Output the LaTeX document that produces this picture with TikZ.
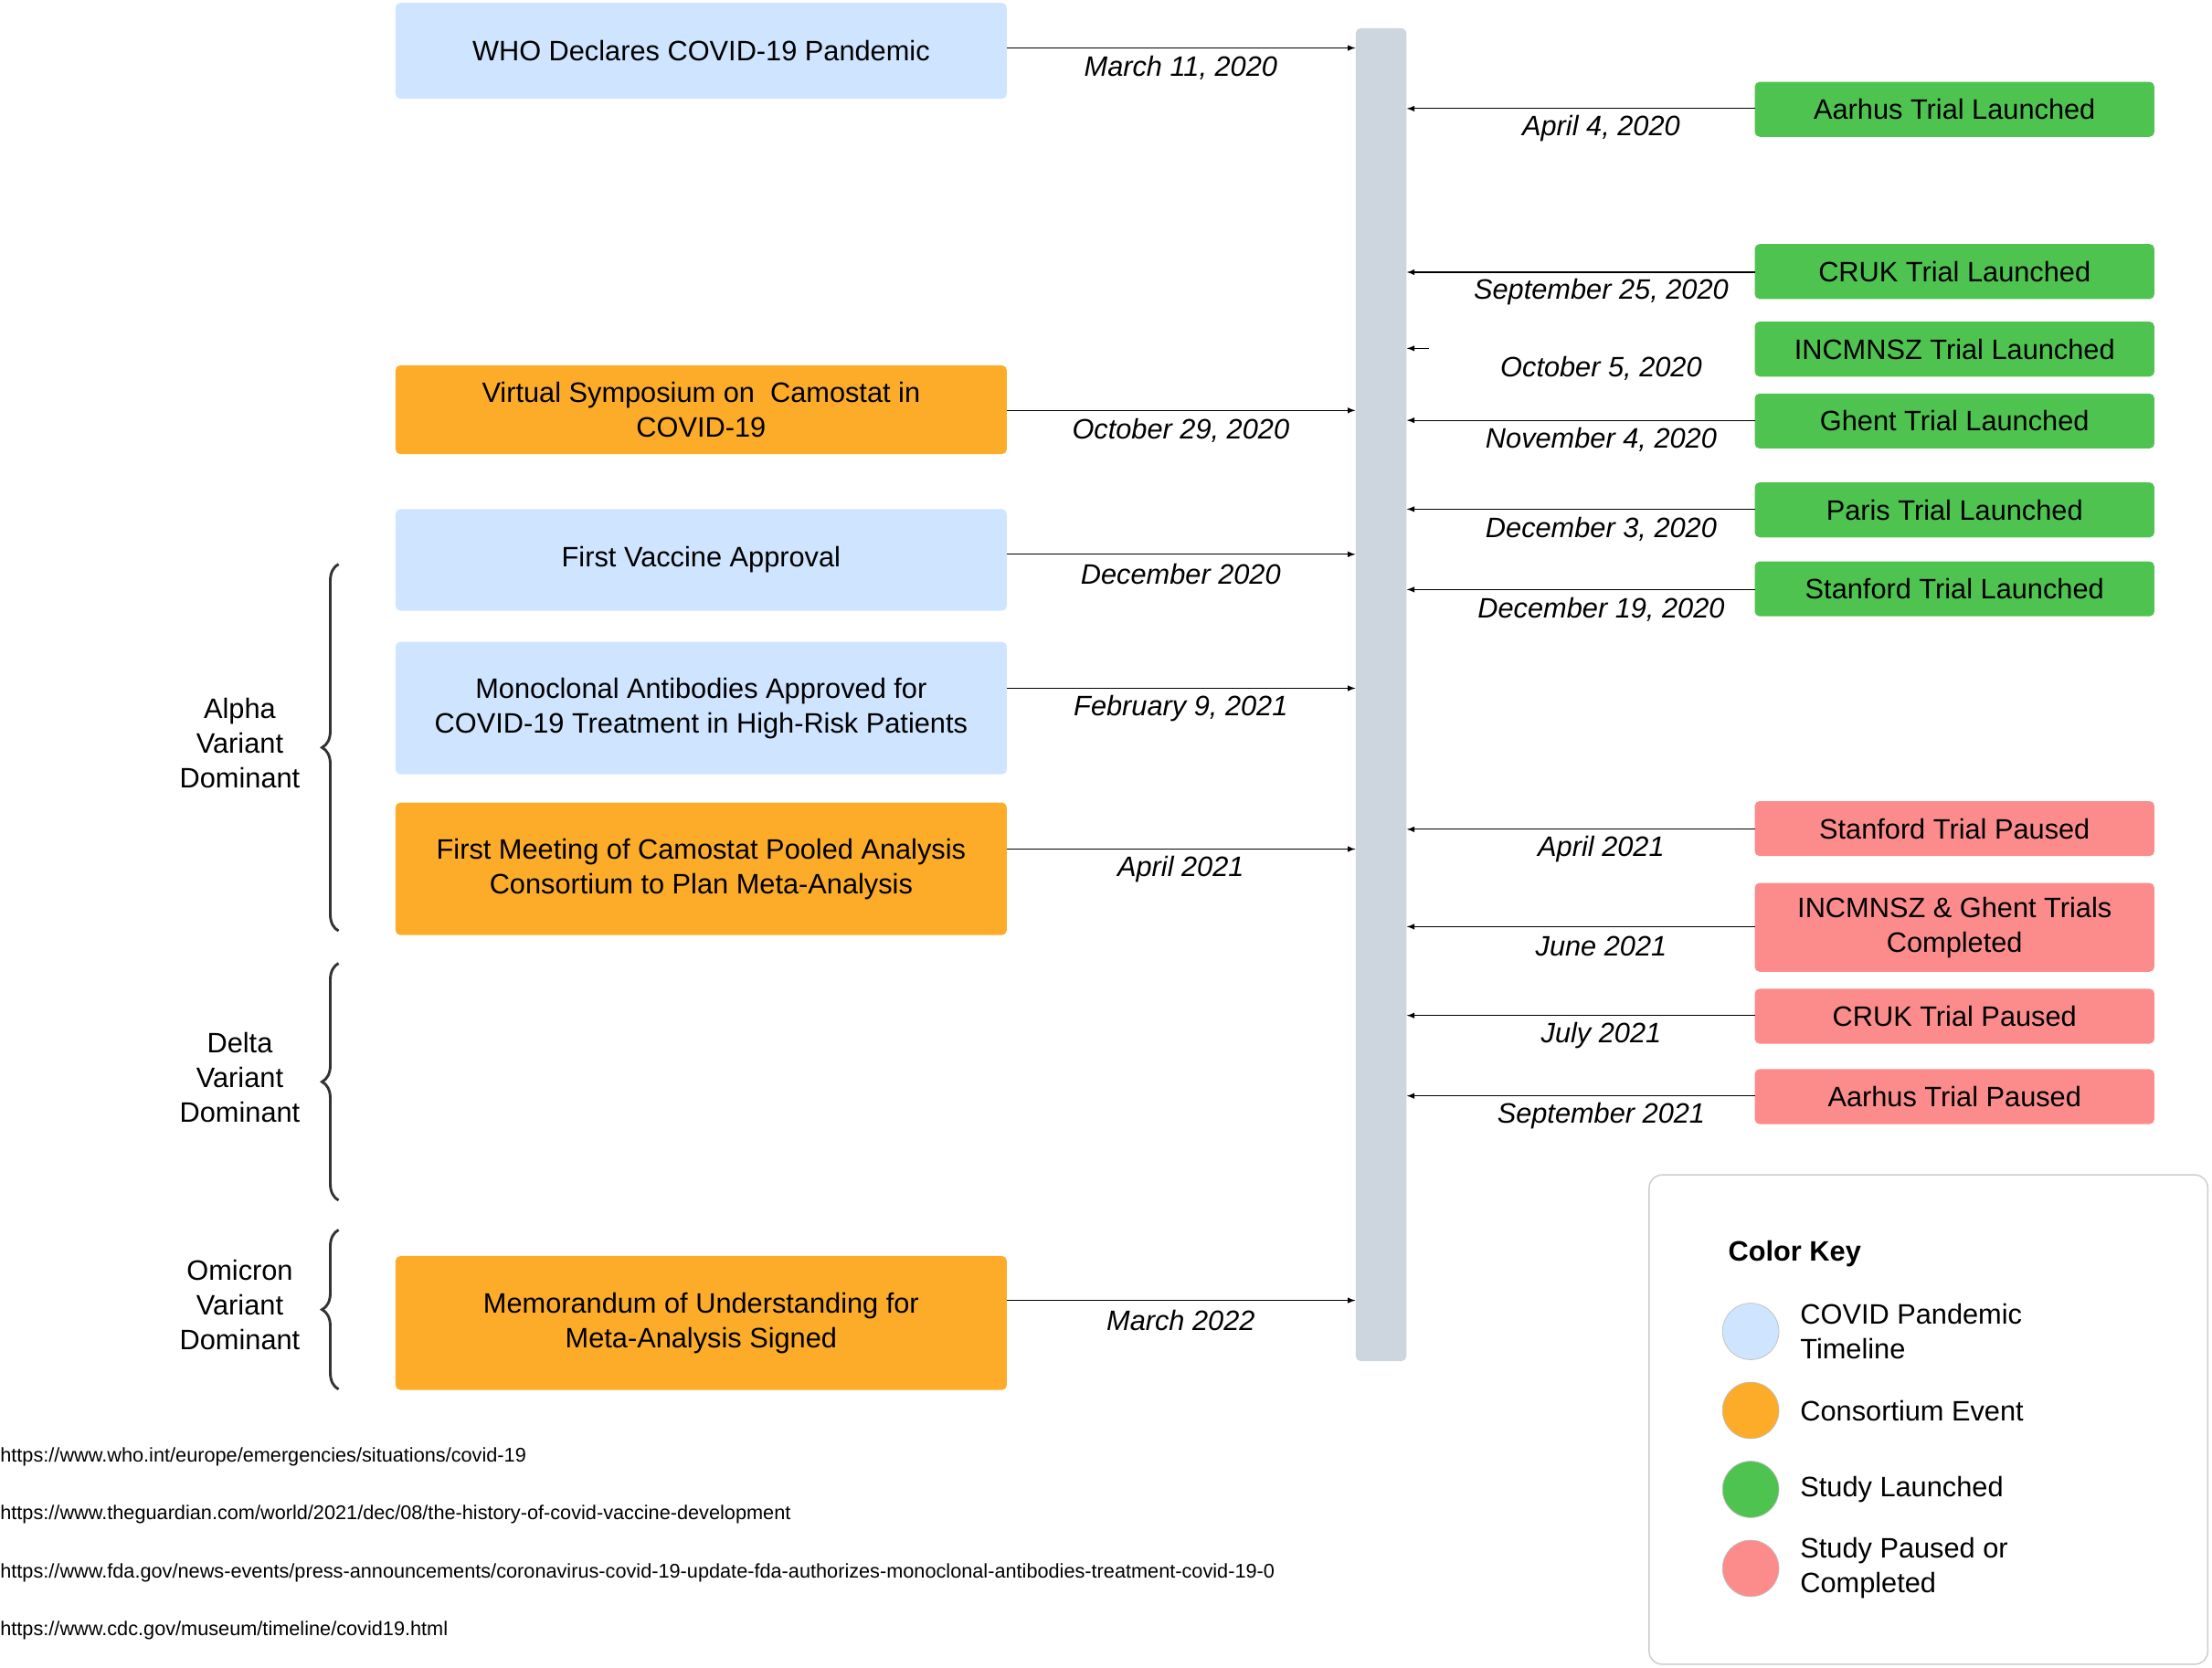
\documentclass[tikz,border=0pt]{standalone}
\usepackage{fontspec}
\setmainfont{Liberation Sans}
\usetikzlibrary{decorations.pathreplacing}
\definecolor{pandemic}{HTML}{CFE4FF}
\definecolor{consort}{HTML}{FCAC29}
\definecolor{launch}{HTML}{4FC350}
\definecolor{paused}{HTML}{FC8C8C}
\definecolor{bar}{HTML}{CDD5DE}
\tikzset{
  event/.style={draw=none,rounded corners=3pt,minimum width=13.0cm,align=center,
    font=\fontsize{17}{21}\selectfont},
  trial/.style={event,minimum width=8.5cm,minimum height=1.17cm},
  date/.style={font=\fontsize{17}{21}\selectfont\itshape},
  link/.style={-latex,line width=0.6pt},
  era/.style={align=center,font=\fontsize{17}{21}\selectfont},
}
\begin{document}
\begin{tikzpicture}[x=0.03cm,y=-0.03cm]
  \useasboundingbox (0,0) rectangle (1568,1182);
  \node[fill=bar,rounded corners=3pt,minimum width=1.08cm,minimum height=28.35cm] (bar) at (979,492.5) {};

  % left events
  \foreach \n/\c/\y/\h/\t/\d/\dy in {
      who/pandemic/36/2.04/{WHO Declares COVID-19 Pandemic}/{March 11, 2020}/48,
      symp/consort/290.5/1.89/{Virtual Symposium on\ \ Camostat in\\COVID-19}/{October 29, 2020}/305,
      vacc/pandemic/397/2.16/{First Vaccine Approval}/{December 2020}/407,
      mab/pandemic/502/2.82/{Monoclonal Antibodies Approved for\\COVID-19 Treatment in High-Risk Patients}/{February 9, 2021}/502,
      meet/consort/616/2.82/{First Meeting of Camostat Pooled Analysis\\Consortium to Plan Meta-Analysis}/{April 2021}/616,
      mou/consort/938/2.85/{Memorandum of Understanding for\\Meta-Analysis Signed}/{March 2022}/936}
  {
    \node[event,fill=\c,minimum height=\h cm] (\n) at (497,\y) {\t};
    \node[date] (\n date) at (837,\dy) {\d};
  }
  \coordinate (whoA) at (714,34);   \coordinate (sympA) at (714,291);
  \coordinate (vaccA) at (714,393); \coordinate (mabA) at (714,488);
  \coordinate (meetA) at (714,602); \coordinate (mouA) at (714,922);
  \foreach \n in {who,symp,vacc,mab,meet,mou}
    \draw[link] (\n A) -- (bar.west |- \n A);

  % right events
  \foreach \n/\c/\y/\h/\t/\d/\ay in {
      aarL/launch/77.5/1.17/{Aarhus Trial Launched}/{April 4, 2020}/77,
      crukL/launch/192.5/1.17/{CRUK Trial Launched}/{September 25, 2020}/193,
      incL/launch/247.5/1.17/{INCMNSZ Trial Launched}/{October 5, 2020}/247,
      ghentL/launch/298.5/1.17/{Ghent Trial Launched}/{November 4, 2020}/298,
      parisL/launch/361.5/1.17/{Paris Trial Launched}/{December 3, 2020}/361,
      stanL/launch/417.5/1.17/{Stanford Trial Launched}/{December 19, 2020}/418,
      stanP/paused/587.5/1.17/{Stanford Trial Paused}/{April 2021}/588,
      incP/paused/657.5/1.89/{INCMNSZ \& Ghent Trials\\Completed}/{June 2021}/657,
      crukP/paused/720.5/1.17/{CRUK Trial Paused}/{July 2021}/720,
      aarP/paused/777.5/1.17/{Aarhus Trial Paused}/{September 2021}/777}
  {
    \node[trial,fill=\c,minimum height=\h cm] (\n) at (1385.5,\y) {\t};
    \node[date] (\n date) at (1135,\ay+14) {\d};
    \coordinate (\n A) at (1244,\ay);
  }
  \foreach \n in {aarL,crukL,ghentL,parisL,stanL,stanP,incP,crukP,aarP}
    \draw[link] (\n A) -- (bar.east |- \n A);
  \coordinate (incLA) at (1013,247);
  \draw[link] (incLA) -- (bar.east |- incLA);

  % variant eras
  \foreach \n/\a/\b/\t/\ty in {
      alpha/400/660/{Alpha\\Variant\\Dominant}/527,
      delta/683/851/{Delta\\Variant\\Dominant}/764,
      omicron/872/985/{Omicron\\Variant\\Dominant}/925}
  {
    \coordinate (\n top) at (240,\a);
    \coordinate (\n bot) at (240,\b);
    \draw[line width=1.6pt,color=black!80,decorate,
      decoration={brace,amplitude=10pt}] (\n bot) -- (\n top);
    \node[era] (\n) at (170,\ty) {\t};
  }

  % sources
  \foreach \u [count=\i] in {
      https://www.who.int/europe/emergencies/situations/covid-19,
      https://www.theguardian.com/world/2021/dec/08/the-history-of-covid-vaccine-development,
      https://www.fda.gov/news-events/press-announcements/coronavirus-covid-19-update-fda-authorizes-monoclonal-antibodies-treatment-covid-19-0,
      https://www.cdc.gov/museum/timeline/covid19.html}
    \node[anchor=west,inner sep=0pt,font=\fontsize{12}{14}\selectfont] (src\i) at (0,992+41*\i) {\u};

  % legend
  \node[draw=black!20,line width=0.8pt,rounded corners=8pt,minimum width=11.88cm,
    minimum height=10.41cm] (key) at (1367,1006.5) {};
  \node[anchor=west,font=\fontsize{17}{21}\selectfont\bfseries] (keytitle) at (1221,889) {Color Key};
  \foreach \n/\c/\y/\t in {kp/pandemic/944/{COVID Pandemic\\Timeline},
      kc/consort/1000/{Consortium Event},
      kl/launch/1056/{Study Launched},
      kx/paused/1112/{Study Paused or\\Completed}}
  {
    \node[circle,draw=black!25,fill=\c,minimum size=1.2cm] (\n) at (1241,\y) {};
    \node[anchor=west,align=left,font=\fontsize{17}{21}\selectfont] (\n text) at (1272,\y) {\t};
  }
\end{tikzpicture}
\end{document}
